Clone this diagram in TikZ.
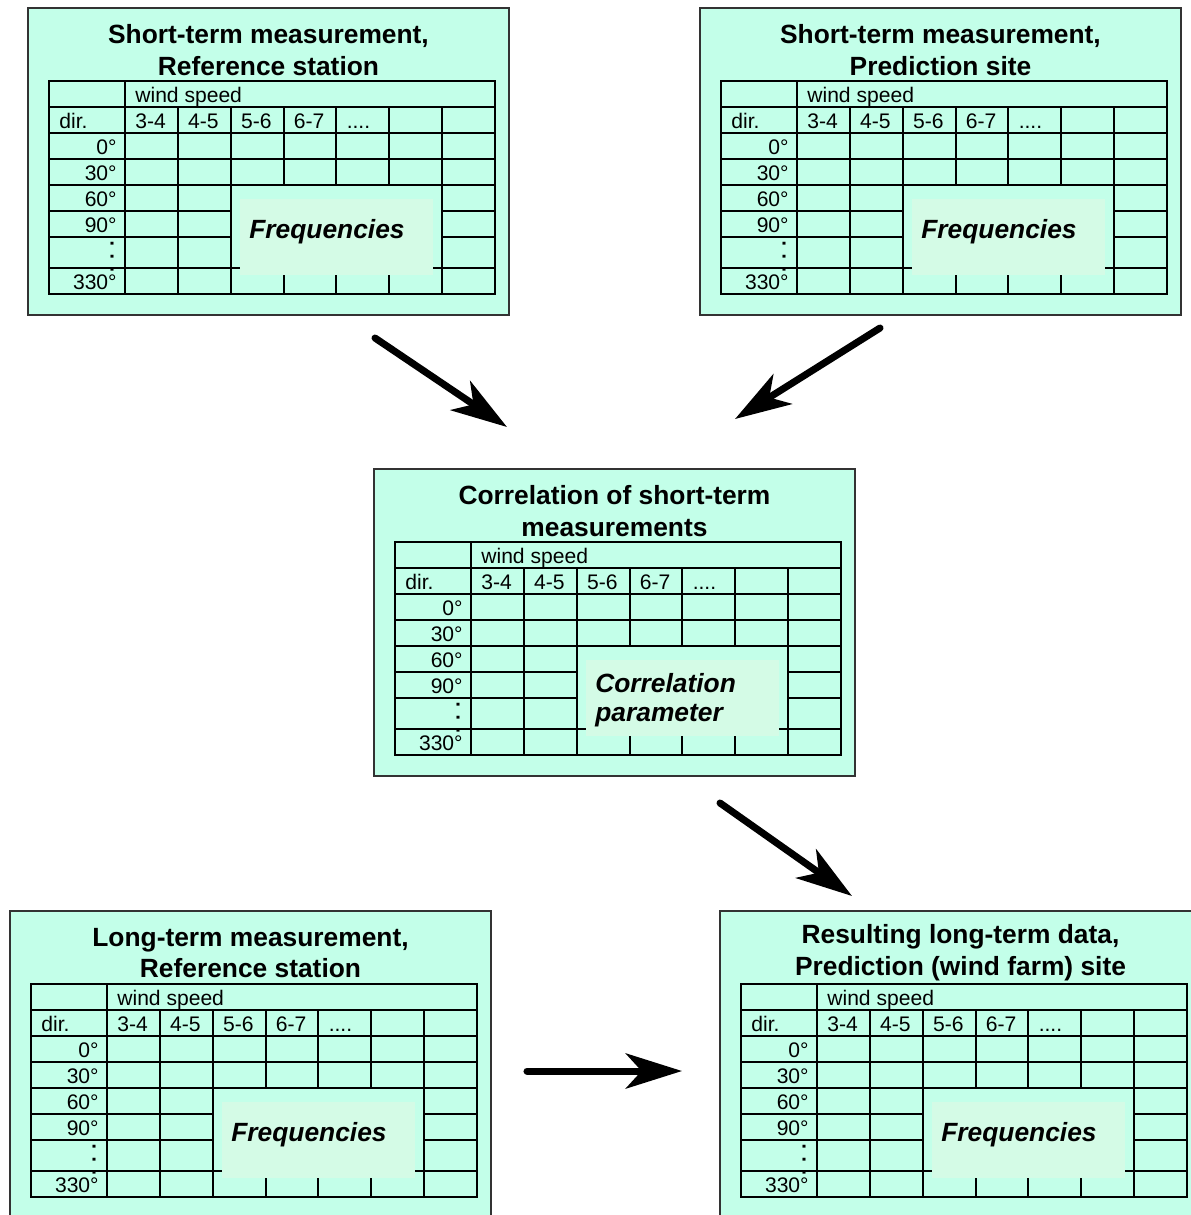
\documentclass[tikz,border=0pt]{standalone}
\usepackage{fontspec}
\setmainfont{Liberation Sans}
\usetikzlibrary{arrows.meta}
\definecolor{boxfill}{RGB}{195,255,233}
\definecolor{notefill}{RGB}{212,251,230}

\begin{document}
\begin{tikzpicture}[x=0.02cm, y=-0.02cm,
        grid/.style={line width=1.1pt, draw=black},
        frame/.style={draw=black!80, line width=0.9pt, fill=boxfill},
        ttl/.style={align=center, inner sep=0pt, font=\fontsize{15}{18.1}\selectfont\bfseries},
        cell/.style={inner sep=0pt, font=\fontsize{12}{14}\selectfont},
        note/.style={inner sep=0pt, align=left, font=\fontsize{15}{16.4}\selectfont\bfseries\itshape},
        flow/.style={line width=4pt, line cap=round, -{Stealth[length=32pt, width=20pt, inset=9pt]}}]
        \useasboundingbox (0,0) rectangle (1191,1215);
        \clip (0,0) rectangle (1191,1215);
        % desenhar as cinco caixas com tabela
        \foreach \nm/\bx/\by/\ttl/\ny/\nt in {
            refshort/28/8/{Short-term measurement,\\Reference station}/230/{Frequencies},
            preshort/700/8/{Short-term measurement,\\Prediction site}/230/{Frequencies},
            corr/374/469/{Correlation of short-term\\measurements}/252/{Correlation\\parameter},
            reflong/10/911/{Long-term measurement,\\Reference station}/230/{Frequencies},
            result/720/911/{Resulting long-term data,\\Prediction (wind farm) site}/230/{Frequencies}}{
            \begin{scope}[shift={(\bx,\by)}]
                % caixa de fundo e titulo
                \draw[frame] (0,0) rectangle (481,307);
                \node[ttl] (\nm-title) at (240.5,42) {\ttl};
                % linhas da tabela
                \draw[grid] (21,73) rectangle (467,286);
                \foreach \ry in {99,125,151,177,260}
                    \draw[grid] (21,\ry) -- (467,\ry);
                \foreach \ry in {203,229}
                    \draw[grid] (21,\ry) -- (202.7,\ry) (414.1,\ry) -- (467,\ry);
                \draw[grid] (97,73) -- (97,286);
                \foreach \k in {1,2,6}
                    \draw[grid] ({97+52.857*\k},99) -- ++(0,187);
                \foreach \k in {3,4,5}
                    \draw[grid] ({97+52.857*\k},99) -- ++(0,78) ({97+52.857*\k},260) -- ++(0,26);
                % caixa clara por cima
                \fill[notefill] (212,191) rectangle (405,267);
                \node[note, anchor=base west] (\nm-note) at (221,\ny) {\nt};
                % textos das celulas
                \node[cell, anchor=base west] (\nm-ws) at (107,94) {wind speed};
                \node[cell, anchor=base west] (\nm-dir) at (31,120) {dir.};
                \foreach \s [count=\k from 0] in {3-4,4-5,5-6,6-7}
                    \node[cell, anchor=base west] (\nm-s\k) at ({107+52.857*\k},120) {\s};
                \node[cell, anchor=base west] (\nm-more) at (318.4,120) {....};
                \foreach \d/\ry [count=\k] in {0°/146,30°/172,60°/198,90°/224,330°/281}
                    \node[cell, anchor=base east] (\nm-d\k) at (89,\ry) {\d};
                \node[cell, rotate=90, font=\fontsize{11.5}{13}\selectfont\bfseries] (\nm-dots) at (84,249) {. . .};
            \end{scope}
        }
        % pontos das setas
        \coordinate (refshort-out) at (375,338);
        \coordinate (corr-in1) at (507,427);
        \coordinate (preshort-out) at (880,328);
        \coordinate (corr-in2) at (735,419);
        \coordinate (corr-out) at (720,803);
        \coordinate (result-in1) at (852,896);
        \coordinate (reflong-out) at (527,1071);
        \coordinate (result-in2) at (682,1071);
        % desenhar as setas
        \draw[flow] (refshort-out) -- (corr-in1);
        \draw[flow] (preshort-out) -- (corr-in2);
        \draw[flow] (corr-out) -- (result-in1);
        \draw[flow] (reflong-out) -- (result-in2);
    \end{tikzpicture}
\end{document}
